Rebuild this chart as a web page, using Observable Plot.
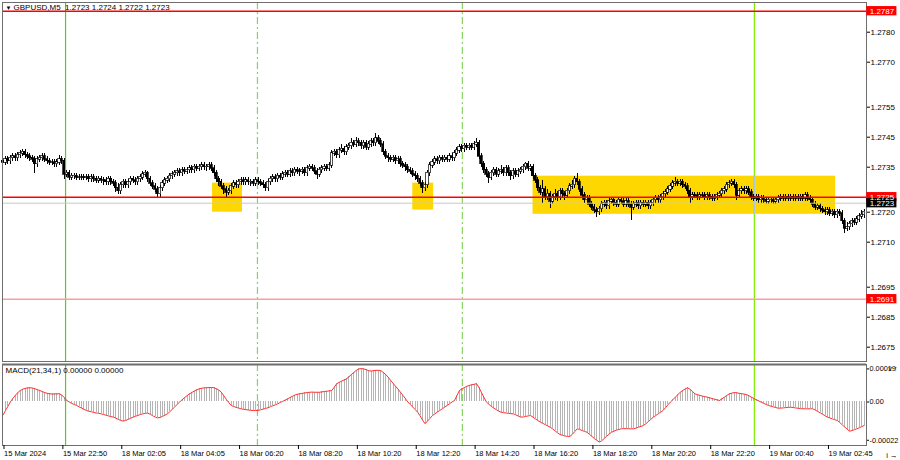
<!DOCTYPE html>
<html><head><meta charset="utf-8">
<script src="https://cdn.jsdelivr.net/npm/d3@7"></script>
<script src="https://cdn.jsdelivr.net/npm/@observablehq/plot@0.6"></script>
<style>
html,body{margin:0;padding:0;background:#fff;}
#chart{position:relative;width:900px;height:460px;overflow:hidden;background:#fff;}
#chart svg{position:absolute;left:0;display:block;overflow:visible;}
</style></head><body><div id="chart"></div>
<script>
// Prices are stored in pips above BASE (1.2700); MACD in units of 1e-5.
const BASE = 1.2700;
const firstOpen = 37;
const closes = [
36.5,37.5,37,38,38.5,38,39,39.5,40,39,
38.5,38,37.5,36,37.5,38,38.5,37.5,37,36.5,
36.5,36,36.5,37.5,37,32.5,33,31.5,32,32,
31.5,31.5,31.5,31.5,31.5,31,31.5,31,30.5,31,
30.5,30.5,30,31,30,29.5,28,27,29,30,
29,30,31,30.5,30,31,31.5,32.5,33,31,
29.5,28.5,27.5,26,28,29.5,30.5,31,32,32.5,
33,33.5,33,34,33.5,34,34.5,34,35,34.5,
35,35.5,35,35,35.5,34.5,33,31,30,28.5,
27.5,26.5,27,28.5,29.5,29,30,30.5,30,30.5,
30,30,29.5,30.5,30,29.5,29,28,30,31,
31.5,31,32,31.5,32.5,33,32.5,33.5,33,34,
33.5,33.5,34,33,34.5,35,34.5,33.5,32.5,34,
34.5,35,34.5,35.5,39.5,40,39,40.5,41,40,
41.5,42,43,42.5,43.5,43,42,43,41.5,42.5,
43.5,43,44.5,43.5,42.5,40,38.5,38,37.5,38,
37,37.5,36,35.5,35,34,33.5,32.5,32,31,
29.5,28,29,33,35.5,36.5,37.5,37,38,37.5,
38,37.5,38.5,38,39.5,40.5,41.5,41,42,41.5,
42,41.5,42.5,43,38.5,36,34,32.5,31.5,33,
34,32.5,33.5,34,33,34.5,33,32,33.5,32.5,
33.5,34,35,36,34.5,35,32,30.5,28,26.5,
27.5,25,26,23.5,25,26,25,27,26,25.5,
27,28.5,29,31,30,27.5,25.5,24,24.5,22.5,
21.5,20.5,20,21,22.5,23,22,23.5,24,23,
22.5,24,23.5,22.5,23.5,22.5,21.5,22.5,23,22,
23,22.5,23,22,23,24,24.5,24,25,26,
26.5,27.5,28.5,29.5,30,29.5,30,29,28.5,27,
25,25.5,25.5,25,25.5,25.5,25,25.5,25,24.5,
25,25.5,26,27,27.5,29,29.5,30,29,25.5,
27,27.5,27,27.5,26.5,25,24.5,25,24,24.5,
24,23.5,24,24,23.5,24,24.5,25,24.5,25,
24.5,25,24.5,25,24.5,25,24.5,25.5,24.5,24,
22.5,21.5,22,21,20.5,20,20.5,19.5,20,19,
20,19.5,17,14.5,15,16,17,16.5,17.5,18.5,
19,20];
const highs = [
38,38.5,38.5,39,39.5,39.5,40,40.5,40.8,41,
40,39.5,39,38.5,38.5,39,39.5,39.5,38.5,38,
37.5,37.5,37.5,39,38.5,38,34,34,33,33,
33,32.5,32.5,32.5,32.5,32.5,32.5,32.5,32,32,
32,31.5,31.5,32,32,31,30.5,29.5,30,31,
31,31,32,32,31.5,32,32.5,33.5,33.8,33.5,
32,30.5,29.5,28.5,29,30.5,31.5,32,33,33.5,
34,34.5,34.5,35,35,35,35.5,35.5,36,36,
36,36.7,36.5,36,36.5,36.5,35.5,34,32,31,
29.5,28.5,28,29.5,30.5,30.5,31,31.5,31.5,31.5,
31.5,31,31,31.5,31.5,31,30.5,30,31,32,
32.5,32.5,33,33,33.5,34,34,34.5,34.5,35,
35,34.5,35,35,35.5,36,36,35.5,34.5,35,
35.5,36,36,36.5,40.5,41,41,41.5,42.5,42,
42.5,43,44.5,44,45,44.5,44,44,44,43.5,
44.5,44.5,46.3,45.5,44.5,43.5,41,39.5,39,39,
39,38.5,38.5,37,36.5,36,35,34.5,33.5,33,
32,30.5,30,34,36.5,37.5,38.5,38.5,39,39,
39,39,39.5,39.5,40.5,41.5,42.5,42.5,43,43,
43,43,43.5,44.7,44,39.5,37,35,33.5,34,
35,35,34.5,35.5,35,35.5,35.5,34,34.5,34.5,
34.5,35,36,36.7,37,36,36,33,31.5,29,
30.5,28.5,27.5,27,26,27.5,27,28,28,27,
28,29.5,30.5,32,33,31,28.5,26.5,25.5,25.5,
23.5,22.5,21.5,22,23.5,24,24,24.5,25,25,
24,25,25,24.5,24.5,24.5,23.5,23.5,24,24,
24,24,24,24,24,25,25.5,25.5,26,27,
27.5,28.5,29.5,30.5,31.5,31,31,31,30,29.5,
28,26.5,26.5,26.5,26.5,26.5,26.5,26.5,26.5,26,
26,26.5,27,28,28.5,30,30.5,31,31,30,
28,28.5,28.5,28.5,28.5,27.5,26,26,26,25.5,
25.5,25,25,25,25,25,25.5,26,26,26,
26,26,26,26,26,26,26,26.5,26.5,25.5,
25,23.5,23,23,22,21.5,21.5,21.5,21,21,
21,21,20.5,18,16.5,17,18,18,18.5,19.5,
20.5,21];
const lows = [
35,35.5,36,36,37,37,37,38,38.5,38,
37.5,37,36.5,33,35,36.5,37,36.5,36,35.5,
35.5,35,35,35.5,36,31,31.5,30.5,30.5,31,
30.5,30.5,30.5,30.5,30.5,30,30,30,29.5,29.5,
29.5,29,29,29,29,28.5,26.5,26,26,28,
28,28,29,29.5,29,29,30,30.5,31.5,30,
28.5,27.5,26.5,25,25,27,28.5,29.5,30,31,
31.5,32,32,32,32.5,32.5,33,33,33,33.5,
33.5,34,34,33.5,34,33.5,32,30,28.5,27.5,
26,25,25.5,26,27.5,28,28,29,29,29,
29,28.5,28.5,28.5,29,28.5,28,27,27,29,
30,30,30,30.5,30.5,31.5,31.5,31.5,32,32,
32.5,32,32.5,32,32,33.5,33.5,32.5,31,31.5,
33,33.5,33.5,33.5,34.5,38.5,38,38,39.5,39,
39,40.5,41,41.5,41.5,42,41,41,40.5,40.5,
41.5,42,42,42.5,41.5,39,37.5,36.5,36.5,36.5,
36,36,35,34.5,33.5,33,32.5,31.5,30.5,30,
28.5,26.3,27,28,32,34.5,35.5,36,36,36.5,
36.5,36.5,36.5,37,37,38.5,39.5,40,40,40.5,
40.5,40.5,40.5,41.5,37.5,35,33,31.5,29.5,30.5,
32,31.5,31.5,32.5,32,32,32,30.5,31,31.5,
31.5,32.5,33,34,33.5,33.5,31,29.5,27,25.5,
23,24,24,21.3,22.5,24,23.5,24,25,24,
24.5,26,27.5,28,29,26.5,24.5,23,23,21.5,
20.5,19.5,18.3,19,20,21.5,21,21,22.5,22,
21.5,21.5,22.5,21.5,21.5,21.5,17.3,20.5,21.5,21,
21,21.5,21.5,21,21,22,23,23,23,24,
25,25.5,26.5,27.5,28.5,28.5,28.5,28,27.5,26,
23,24,24.5,24,24,24.5,24,24,24,23.5,
23.5,24,24.5,25,26,26.5,28,28.5,28,24,
24.5,26,26,26,25.5,24,23.5,23.5,23,23,
23,22.5,22.5,23,22.5,22.5,23,23.5,23.5,23.5,
23.5,23.5,23.5,23.5,23.5,23.5,23.5,23.5,23.5,23,
21.5,20.5,20.5,20,19.5,19,19,18.5,18.5,18,
18,18.5,16,13,13.5,14,15,15.5,15.5,16.5,
17.5,18];
const macdValues = [
-7.5,-5,-2.5,0,2,3.8,5.3,6.6,7.3,7.8,
8.1,8.2,8,7.6,7.1,6.6,6,5.4,5,4.7,
4.6,4.6,4.7,4.7,4,2.5,0.9,0,-0.8,-1.4,
-2,-2.8,-3.5,-4.2,-4.9,-5.3,-5.6,-6,-6.3,-6.5,
-6.8,-7.2,-7.6,-8,-8.4,-8.7,-9.3,-10,-10.6,-11,
-10.6,-10,-9.4,-8.7,-8.2,-7.7,-7.2,-6.8,-6.5,-6.4,
-7,-7.9,-8.6,-9.1,-8.9,-8.3,-7.6,-6.8,-5.6,-4.2,
-2.8,-1.4,0,1.3,2.5,3.6,4.7,5.5,6.3,7,
7.6,7.9,8.1,8.2,8.3,8.3,8.2,7.6,6.8,5.6,
3.6,1.5,-0.3,-2,-2.6,-3.1,-3.5,-3.9,-4.2,-4.4,
-4.6,-4.8,-4.9,-4.9,-4.8,-4.5,-4.1,-3.7,-3.3,-2.7,
-2.1,-1.6,-1,-0.3,0.4,1.1,1.8,2.6,3.3,4,
4.5,4.7,5,5.2,5.4,5.6,5.7,5.6,5.6,5.6,
5.8,6,6.2,6.4,6.6,8.5,10.5,11.3,12,12.7,
13.3,14.5,15.8,17,18.2,19,19.2,19,18.6,18,
17.8,18,18.2,18.2,18,17,15.8,14.2,12.4,10.7,
9,7.3,5.6,3.8,1.9,0,-1.5,-2.9,-4.4,-5.9,
-8,-10.4,-12.5,-11,-9.4,-7.8,-6.8,-5.8,-4.9,-3.9,
-3,-2,-1,0,0.9,3.7,6.6,7.5,8.3,9,
9.5,9.9,10.2,10.5,8.2,5.4,2.7,0,-1.3,-2.5,
-3.5,-4.4,-5.2,-5.9,-6.1,-6.3,-6.5,-6.7,-6.8,-7.4,
-8.1,-8.7,-8.6,-8.3,-8,-7.8,-8.7,-9.7,-10.7,-11.6,
-12.3,-13,-13.8,-14.5,-15.5,-16.6,-17.7,-18.7,-19.1,-19.5,
-19.8,-19.8,-18.6,-17,-15.4,-15.8,-16.4,-16.9,-17.4,-18.6,
-19.8,-21,-22,-23,-22.3,-21,-19.7,-18.5,-17.4,-16.8,
-16.2,-15.8,-15.4,-15.3,-15.3,-15.4,-15.4,-15.4,-15,-14.5,
-14,-13.5,-12.5,-11.3,-10,-8.7,-7.8,-6.8,-5.9,-4.9,
-3.3,-1.6,0,1.4,2.8,4.2,5.6,6.6,7.5,8.2,
7.3,6,4.7,4.2,3.8,3.4,3.1,2.8,2.4,2,
1.6,1.2,0.9,1.8,2.8,3.8,4.7,5.1,5.4,5.3,
5,4.8,4.5,4.3,3.6,2.8,2,1.3,0.6,-0.1,
-0.8,-1.4,-2,-2.4,-2.8,-3.2,-3.6,-3.5,-3.4,-3.2,
-3.1,-3,-3.2,-3.4,-3.6,-3.8,-3.9,-3.9,-3.9,-3.9,
-3.9,-4.6,-5.4,-6.2,-7,-7.9,-8.7,-9.2,-9.7,-10.2,
-10.6,-11.8,-13.1,-14.4,-15.6,-16.8,-16.4,-15.9,-15.4,-14.8,
-14.1,-13.5];

const timeLabels = ["15 Mar 2024","15 Mar 22:50","18 Mar 02:05","18 Mar 04:05","18 Mar 06:20","18 Mar 08:20","18 Mar 10:20","18 Mar 12:20","18 Mar 14:20","18 Mar 16:20","18 Mar 18:20","18 Mar 20:20","18 Mar 22:20","19 Mar 00:40","19 Mar 02:45"];
const labelBars = [0,24,48,72,96,120,144,168,192,216,240,264,288,312,336];
const priceTicks = [80,70,55,45,35,20,10,-5,-15,-25];
const macdTicks = [19,0,-22];
const macdTickText = ["0.00019","0.00","-0.00022"];
const titleText = "GBPUSD,M5  1.2723 1.2724 1.2722 1.2723";
const macdTitle = "MACD(21,34,1) 0.00000 0.00000";

// horizontal levels (pips above BASE)
const levelPips = [87, 25, 23, -9];
const levelLabels = ["1.2787","1.2725","1.2723","1.2691"];
const levelLine = ["#ff0000","#ff0000","#c8c8c8","#f7a0a0"];
const levelBox = ["#ff0000","#ff0000","#000000","#ff0000"];
const levelWidth = [1.5,1.5,1,1.5];

// yellow zones: bar range and pips range
const zoneBar1 = [85.4, 167, 216];
const zoneBar2 = [97.6, 175.5, 339.3];
const zoneLow = [20, 20.7, 19.3];
const zoneHigh = [29.7, 29.7, 32];

// vertical lines (bar positions)
const vBars = [25.5, 103.7, 187.2, 306.2];
const vColors = ["#4fd40a", "#86d45e", "#86d45e", "#7fee00"];
const vDash = [null, "7,3,2,3", "7,3,2,3", null];

const font = "'Liberation Sans', Arial, sans-serif";
const X_DOMAIN = [-0.2, 351.9];

const bars = closes.map((c, i) => {
  const o = i === 0 ? firstOpen : closes[i - 1];
  return {i, o, c, h: Math.max(highs[i], o, c), l: Math.min(lows[i], o, c), up: c >= o};
});
const levels = levelPips.map((p, k) => ({p, label: levelLabels[k], line: levelLine[k], box: levelBox[k], w: levelWidth[k]}));
const zones = zoneBar1.map((b, k) => ({x1: b, x2: zoneBar2[k], y1: zoneLow[k], y2: zoneHigh[k]}));
const md = macdValues.map((v, i) => ({i, v}));

const vMarks = () => vBars.map((b, k) => Plot.ruleX([b], {stroke: vColors[k], strokeWidth: 1.2, strokeDasharray: vDash[k] || undefined}));

const main = Plot.plot({
  width: 900, height: 362,
  marginLeft: 2, marginRight: 34, marginTop: 2, marginBottom: 1,
  x: {domain: X_DOMAIN, axis: null},
  y: {domain: [-29.77, 89.9]},
  style: {fontFamily: font, fontSize: "8px", background: "transparent", color: "#000"},
  marks: [
    Plot.rect(zones, {x1: "x1", x2: "x2", y1: "y1", y2: "y2", fill: "#ffd700"}),
    ...vMarks(),
    // the solid lime line shows pale blue where it crosses the filled zone
    Plot.ruleX([vBars[3]], {y1: zoneLow[2], y2: zoneHigh[2], stroke: "#a9c6e8", strokeWidth: 1.2}),
    Plot.ruleX(bars, {x: "i", y1: "l", y2: "h", stroke: "#000", strokeWidth: 1, shapeRendering: "crispEdges"}),
    Plot.rect(bars, {x1: d => d.i - 0.45, x2: d => d.i + 0.45, y1: d => Math.min(d.o, d.c) - 0.1, y2: d => Math.max(d.o, d.c) + 0.1,
      fill: d => d.up ? "#ffffff" : "#000000", stroke: "#000", strokeWidth: 0.7, shapeRendering: "crispEdges"}),
    ...levels.map(l => Plot.ruleY([l.p], {stroke: l.line, strokeWidth: l.w})),
    Plot.frame({stroke: "#6e6e6e"}),
    Plot.axisY(priceTicks, {anchor: "right", tickSize: 3, tickPadding: 1, fontSize: 8,
      tickFormat: d => (BASE + d / 10000).toFixed(4)}),
    Plot.rect(levels, {x1: 352.0, x2: 364.3, y1: d => d.p - 1.55, y2: d => d.p + 1.55, fill: "box"}),
    Plot.text(levels, {x: 352.0, y: "p", text: "label", textAnchor: "start", dx: 3, fill: "#fff", fontSize: 8}),
    Plot.text(["\u25BC"], {frameAnchor: "top-left", dx: 3, dy: 3, lineAnchor: "top", fontSize: 6, fill: "#000"}),
    Plot.text([titleText], {frameAnchor: "top-left", dx: 11, dy: 2, lineAnchor: "top", fontSize: 8, fill: "#000"})
  ]
});
main.style.top = "0px";

const labelMap = new Map(labelBars.map((b, k) => [b, timeLabels[k]]));
const macdMap = new Map(macdTicks.map((t, k) => [t, macdTickText[k]]));

const sub = Plot.plot({
  width: 900, height: 98,
  marginLeft: 2, marginRight: 34, marginTop: 2, marginBottom: 15,
  x: {domain: X_DOMAIN},
  y: {domain: [-25.0, 21.55]},
  style: {fontFamily: font, fontSize: "8px", background: "transparent", color: "#000"},
  marks: [
    Plot.ruleX(md, {x: "i", y1: 0, y2: "v", stroke: "#b4b4b4", strokeWidth: 1, shapeRendering: "crispEdges"}),
    ...vMarks(),
    Plot.line(md, {x: "i", y: "v", stroke: "#ff3030", strokeWidth: 1}),
    Plot.frame({stroke: "#6e6e6e"}),
    Plot.ruleY([21.55], {stroke: "#6e6e6e", strokeWidth: 2}),
    Plot.axisY(macdTicks, {anchor: "right", tickSize: 2, tickPadding: 1, fontSize: 7.3, tickFormat: d => macdMap.get(d)}),
    Plot.axisX(labelBars, {anchor: "bottom", tickSize: 4, tickPadding: 1, fontSize: 7.5, textAnchor: "start", dx: 1,
      tickFormat: d => labelMap.get(d)}),
    Plot.text([macdTitle], {frameAnchor: "top-left", dx: 3, dy: 3, lineAnchor: "top", fontSize: 8, fill: "#000"})
  ]
});
sub.style.top = "362px";

document.getElementById("chart").append(main, sub);
</script></body></html>
